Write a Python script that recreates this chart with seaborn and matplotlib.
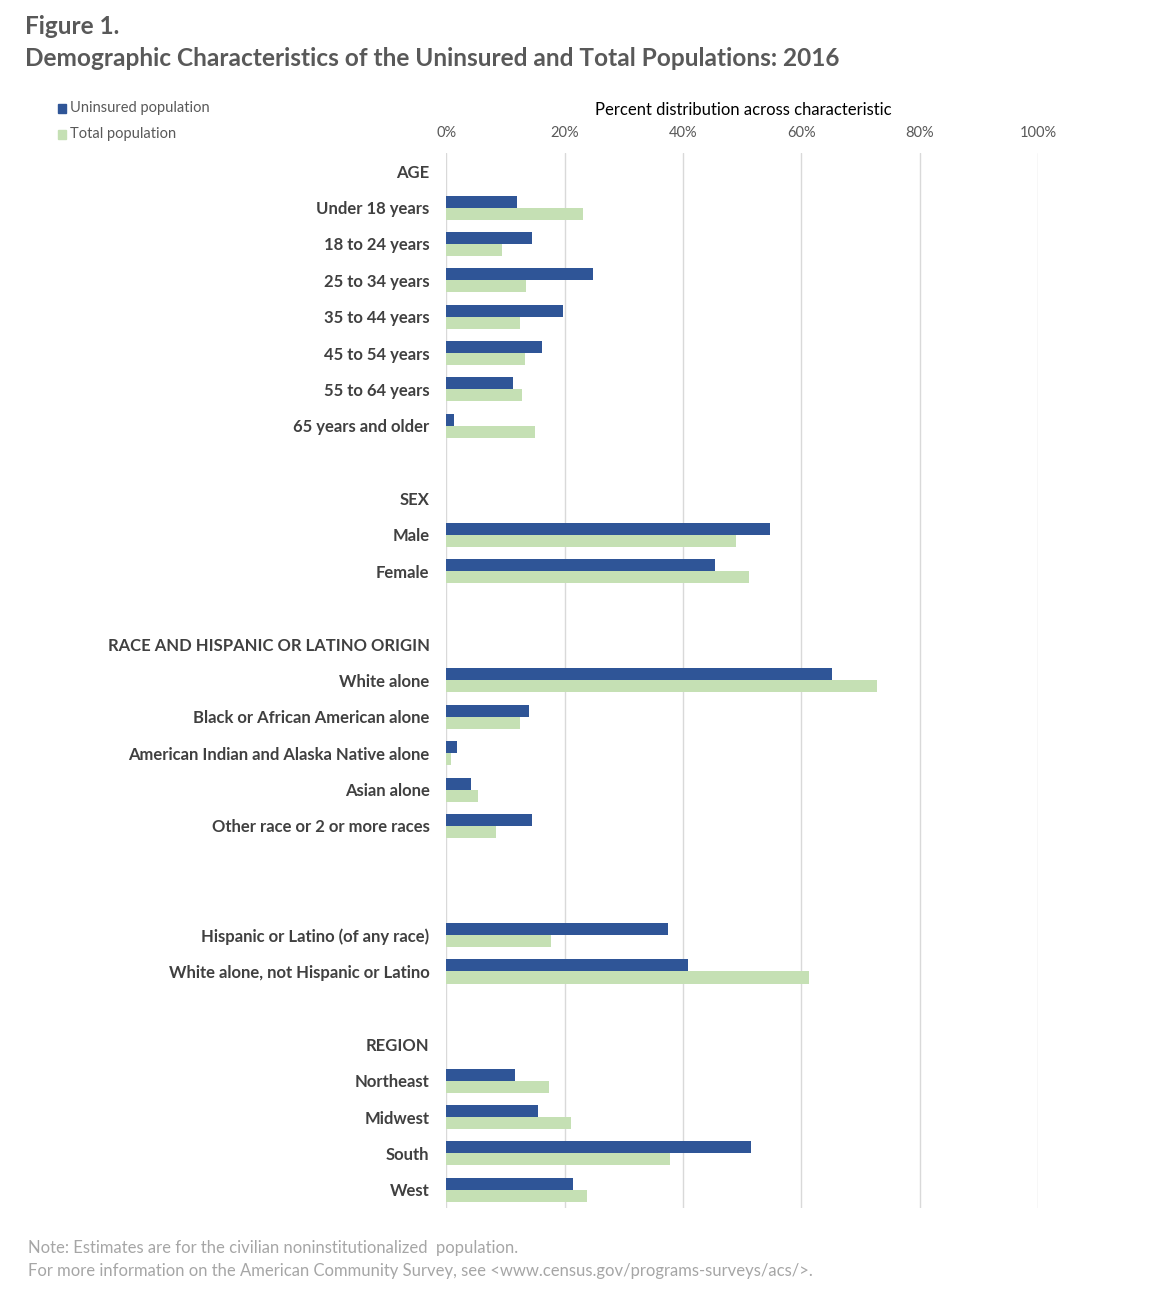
import numpy as np
import pandas as pd
import matplotlib
matplotlib.use("Agg")
import matplotlib.pyplot as plt
import seaborn as sns

# rows of the chart, top to bottom; headers and spacer rows have no bars
categories = [
    "AGE", "Under 18 years", "18 to 24 years", "25 to 34 years", "35 to 44 years",
    "45 to 54 years", "55 to 64 years", "65 years and older", " ",
    "SEX", "Male", "Female", "  ",
    "RACE AND HISPANIC OR LATINO ORIGIN", "White alone", "Black or African American alone",
    "American Indian and Alaska Native alone", "Asian alone", "Other race or 2 or more races",
    "   ", "    ", "Hispanic or Latino (of any race)", "White alone, not Hispanic or Latino",
    "     ", "REGION", "Northeast", "Midwest", "South", "West",
]

uninsured = [
    np.nan, 12.0, 14.5, 24.8, 19.8, 16.2, 11.3, 1.4, np.nan,
    np.nan, 54.7, 45.4, np.nan,
    np.nan, 65.2, 14.0, 1.9, 4.2, 14.5,
    np.nan, np.nan, 37.5, 40.9,
    np.nan, np.nan, 11.7, 15.5, 51.4, 21.5,
]
total = [
    np.nan, 23.1, 9.5, 13.5, 12.5, 13.3, 12.8, 15.0, np.nan,
    np.nan, 49.0, 51.2, np.nan,
    np.nan, 72.8, 12.5, 0.8, 5.4, 8.4,
    np.nan, np.nan, 17.7, 61.3,
    np.nan, np.nan, 17.4, 21.1, 37.8, 23.8,
]
series = ["Uninsured population", "Total population"]
colors = ["#2F5597", "#C5E0B4"]
ticks = [0, 20, 40, 60, 80, 100]

df = pd.DataFrame({
    "category": categories * 2,
    "value": uninsured + total,
    "series": [series[0]] * len(categories) + [series[1]] * len(categories),
})

sns.set_style("white")
plt.rcParams["font.family"] = ["Lato", "DejaVu Sans"]

fig = plt.figure(figsize=(11.68, 13.12), dpi=100)
ax = fig.add_axes([0.382, 0.0793, 0.507, 0.8041])

sns.barplot(data=df, y="category", x="value", hue="series", order=categories,
            hue_order=series, palette=colors, width=0.66, saturation=1,
            orient="h", legend=False, linewidth=0, ax=ax)

ax.set_xlim(0, 100)
ax.set_ylim(len(categories) - 0.5, -0.5)
ax.set_xticks(ticks)
ax.set_xticklabels([f"{t}%" for t in ticks], fontsize=10.5, color="#595959")
ax.xaxis.tick_top()
ax.tick_params(axis="x", length=0, pad=9)
ax.tick_params(axis="y", length=0, pad=12)
for lab in ax.get_yticklabels():
    lab.set_fontsize(12)
    lab.set_fontweight("bold")
    lab.set_color("#404040")
ax.set_xlabel("")
ax.set_ylabel("")
ax.grid(axis="x", color="#D9D9D9", linewidth=1)
ax.set_axisbelow(True)
for s in ax.spines.values():
    s.set_visible(False)

fig.text(0.636, 1 - 110 / 1312, "Percent distribution across characteristic",
         ha="center", va="center", fontsize=12, color="#000000")

# legend at top left
for i, (name, c) in enumerate(zip(series, colors)):
    y = 1 - (108 + 26 * i) / 1312
    fig.patches.append(plt.Rectangle((58 / 1168, y - 0.0035), 0.0065, 0.0068,
                                     transform=fig.transFigure, color=c))
    fig.text(70 / 1168, y, name, ha="left", va="center", fontsize=10.5, color="#595959")

fig.text(25 / 1168, 1 - 27 / 1312, "Figure 1.", ha="left", va="center",
         fontsize=17.5, fontweight="bold", color="#595959")
fig.text(25 / 1168, 1 - 59 / 1312,
         "Demographic Characteristics of the Uninsured and Total Populations: 2016",
         ha="left", va="center", fontsize=17.6, fontweight="bold", color="#595959")

fig.text(28 / 1168, 1 - 1248 / 1312,
         "Note: Estimates are for the civilian noninstitutionalized  population.",
         ha="left", va="center", fontsize=12, color="#A6A6A6")
fig.text(28 / 1168, 1 - 1271 / 1312,
         "For more information on the American Community Survey, see <www.census.gov/programs-surveys/acs/>.",
         ha="left", va="center", fontsize=12, color="#A6A6A6")

fig.savefig("out.png", dpi=100)
